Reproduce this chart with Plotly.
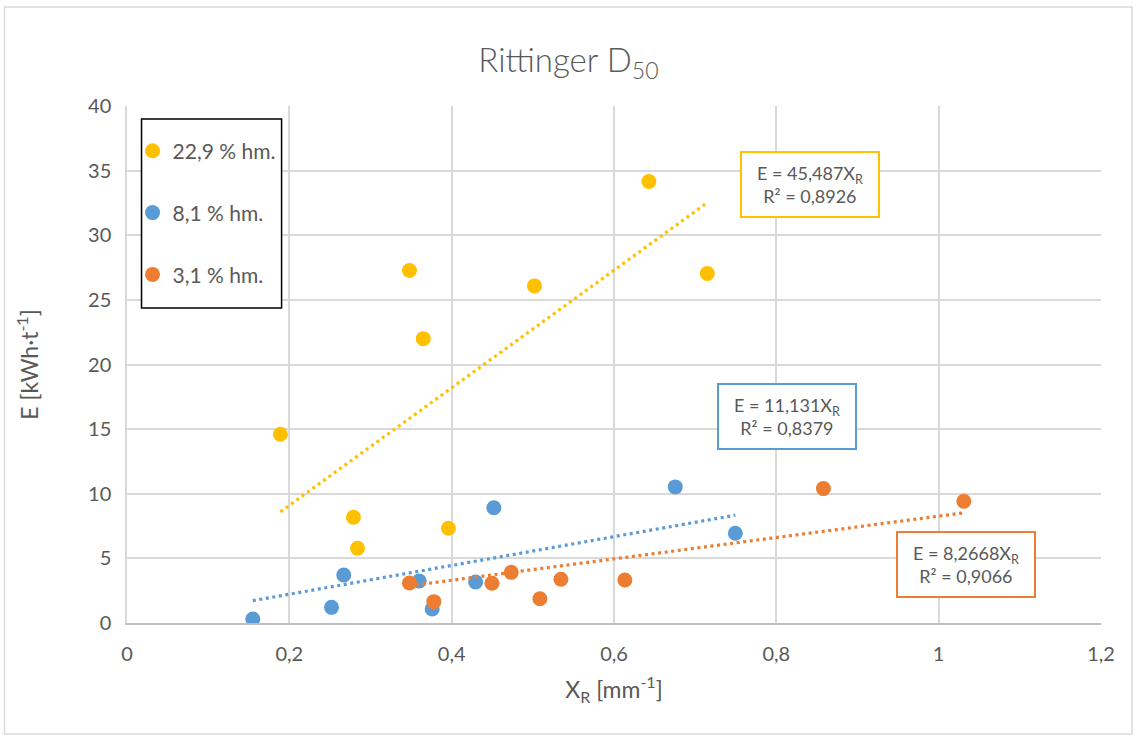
import plotly.graph_objects as go

# Specific energy E [kWh/t] versus Rittinger size parameter X_R [1/mm], three moisture levels
series_names = ["22,9 % hm.", "8,1 % hm.", "3,1 % hm."]
series_colors = ["#FFC000", "#5B9BD5", "#ED7D31"]

x_229 = [0.189, 0.279, 0.284, 0.348, 0.365, 0.396, 0.502, 0.643, 0.715]
e_229 = [14.6, 8.18, 5.78, 27.27, 22.0, 7.33, 26.08, 34.16, 27.04]

x_81 = [0.155, 0.252, 0.267, 0.360, 0.376, 0.4295, 0.452, 0.6755, 0.7495]
e_81 = [0.31, 1.21, 3.71, 3.25, 1.08, 3.17, 8.92, 10.53, 6.94]

x_31 = [0.348, 0.378, 0.4496, 0.4734, 0.5087, 0.5346, 0.6134, 0.858, 1.031]
e_31 = [3.1, 1.65, 3.07, 3.92, 1.88, 3.38, 3.33, 10.4, 9.42]

# Linear trend through the origin: E = k * X_R
slopes = [45.487, 11.131, 8.2668]
r_squared = ["0,8926", "0,8379", "0,9066"]
slope_labels = ["45,487", "11,131", "8,2668"]
label_pos = [(0.842, 33.9), (0.8127, 15.94), (1.0333, 4.565)]

x_ticks = [0, 0.2, 0.4, 0.6, 0.8, 1.0, 1.2]
x_tick_text = ["0", "0,2", "0,4", "0,6", "0,8", "1", "1,2"]
y_ticks = [0, 5, 10, 15, 20, 25, 30, 35, 40]

FONT = "Lato, Carlito, Calibri, sans-serif"
TXT = "#595959"

fig = go.Figure()
data = [(x_229, e_229), (x_81, e_81), (x_31, e_31)]

for i, (xs, ys) in enumerate(data):
    fig.add_trace(go.Scatter(
        x=xs, y=ys, mode="markers", name=series_names[i],
        legendgroup=f"g{i}",
        marker=dict(size=15, color=series_colors[i], line=dict(width=0)),
    ))

for i, (xs, ys) in enumerate(data):
    x0, x1 = min(xs), max(xs)
    fig.add_trace(go.Scatter(
        x=[x0, x1], y=[slopes[i] * x0, slopes[i] * x1], mode="lines",
        line=dict(color=series_colors[i], width=3.2, dash="3px,3.6px"),
        showlegend=False, hoverinfo="skip",
    ))

for i in range(3):
    fig.add_annotation(
        x=label_pos[i][0], y=label_pos[i][1], xref="x", yref="y",
        text=f"E = {slope_labels[i]}X<sub>R</sub><br>R² = {r_squared[i]}",
        showarrow=False, align="center",
        font=dict(family=FONT, size=18, color=TXT),
        bgcolor="white", bordercolor=series_colors[i], borderwidth=2,
        width=134, height=61, valign="middle",
    )

# outer chart frame
fig.add_shape(type="rect", xref="paper", yref="paper",
              x0=-0.1258, x1=1.0318, y0=-0.2147, y1=1.1915,
              line=dict(color="#D9D9D9", width=1.5), layer="below")

# legend frame
fig.add_shape(type="rect", xref="paper", yref="paper",
              x0=0.0149, x1=0.1587, y0=0.6093, y1=0.9749,
              line=dict(color="black", width=1.5), fillcolor="white", layer="above")

fig.update_layout(
    width=1137, height=738,
    margin=dict(l=127, r=36, t=106, b=115),
    paper_bgcolor="white", plot_bgcolor="white",
    font=dict(family=FONT, size=20, color=TXT),
    title=dict(text="Rittinger D<sub>50</sub>", x=0.5, xanchor="center",
               y=0.918, yanchor="middle",
               font=dict(family=FONT, size=33, color=TXT, weight=300)),
    xaxis=dict(range=[0, 1.2], tickvals=x_ticks, ticktext=x_tick_text,
               tickfont=dict(size=20, color=TXT),
               showgrid=True, gridcolor="#D9D9D9", gridwidth=1.5,
               zeroline=False, showline=True, linecolor="#BFBFBF", linewidth=1.5,
               ticks="", ticklabelstandoff=12,
               title=dict(text="X<sub>R</sub> [mm<sup>-1</sup>]", standoff=18,
                          font=dict(size=23, color=TXT))),
    yaxis=dict(range=[0, 40], tickvals=y_ticks,
               tickfont=dict(size=20, color=TXT),
               showgrid=True, gridcolor="#D9D9D9", gridwidth=1.5,
               zeroline=False, showline=True, linecolor="#D9D9D9", linewidth=1.5,
               ticks="", ticklabelstandoff=10,
               title=dict(text="E [kWh·t<sup>-1</sup>]", standoff=43,
                          font=dict(size=23, color=TXT))),
    legend=dict(x=0.0057, y=0.975, xanchor="left", yanchor="top",
                borderwidth=0, bgcolor="rgba(0,0,0,0)",
                font=dict(family=FONT, size=21, color=TXT),
                title=dict(text="&nbsp;", font=dict(size=9)),
                tracegroupgap=31.5, itemwidth=30),
    showlegend=True,
)

fig.write_html("out.html")
